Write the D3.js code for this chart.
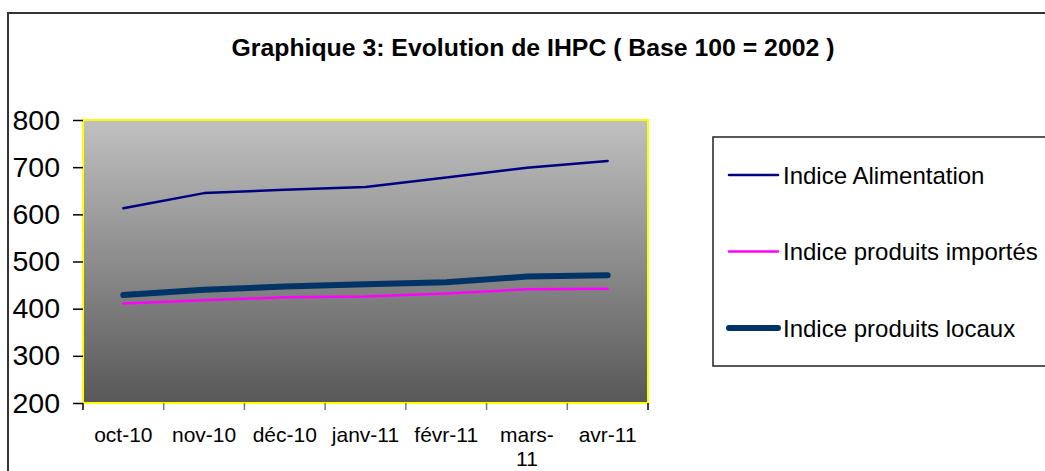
<!DOCTYPE html>
<html>
<head>
<meta charset="utf-8">
<script src="https://cdn.jsdelivr.net/npm/d3@7"></script>
<style>
  body { margin: 0; background: #fff; }
  svg { display: block; font-family: "Liberation Sans", Arial, sans-serif; }
</style>
</head>
<body>
<div id="chart"></div>
<script>
const months = ["oct-10", "nov-10", "déc-10", "janv-11", "févr-11", "mars-11", "avr-11"];
const alimentation = [613, 645, 652, 658, 678, 699, 713];
const importes = [411, 418, 424, 426, 432, 441, 442];
const locaux = [429, 440, 447, 452, 456, 468, 471];
const yTicks = [200, 300, 400, 500, 600, 700, 800];

const series = [
  { name: "Indice Alimentation", values: alimentation, color: "#000080", width: 2.5 },
  { name: "Indice produits importés", values: importes, color: "#ff00ff", width: 2.5 },
  { name: "Indice produits locaux", values: locaux, color: "#003366", width: 6 }
];

const width = 1045, height = 471;
const plot = { left: 83, top: 120, right: 648, bottom: 403 };

const svg = d3.select("#chart").append("svg")
  .attr("width", width)
  .attr("height", height);

// cadre du graphique (déborde à droite et en bas)
svg.append("rect")
  .attr("x", 8).attr("y", 13)
  .attr("width", width + 20).attr("height", height + 20)
  .attr("fill", "#fff").attr("stroke", "#333").attr("stroke-width", 2);

svg.append("text")
  .attr("x", 533).attr("y", 56)
  .attr("text-anchor", "middle")
  .attr("font-size", 24.8).attr("font-weight", "bold")
  .text("Graphique 3: Evolution de IHPC ( Base 100 = 2002 )");

const x = d3.scaleBand().domain(months).range([plot.left, plot.right]);
const y = d3.scaleLinear().domain([200, 800]).range([plot.bottom, plot.top]);

// fond dégradé gris
const grad = svg.append("defs").append("linearGradient")
  .attr("id", "bg").attr("x1", 0).attr("y1", 0).attr("x2", 0).attr("y2", 1);
grad.append("stop").attr("offset", "0%").attr("stop-color", "#c0c0c0");
grad.append("stop").attr("offset", "100%").attr("stop-color", "#585858");

svg.append("rect")
  .attr("x", plot.left).attr("y", plot.top)
  .attr("width", plot.right - plot.left).attr("height", plot.bottom - plot.top)
  .attr("fill", "url(#bg)").attr("stroke", "#ffff00").attr("stroke-width", 2);

// axe Y
const yAxis = svg.append("g")
  .attr("transform", `translate(${plot.left},0)`)
  .call(d3.axisLeft(y).tickValues(yTicks).tickSize(10).tickPadding(13).tickSizeOuter(0));
yAxis.select(".domain").remove();
yAxis.selectAll("line").attr("stroke", "#000").attr("stroke-width", 1.5);
yAxis.selectAll("text").attr("font-size", 28.5).attr("fill", "#000")
  .attr("font-family", "'Liberation Sans', Arial, sans-serif");

// axe X : graduations entre les catégories
const bounds = months.map(m => x(m)).concat([x.range()[1]]);
svg.append("g").selectAll("line")
  .data(bounds).enter().append("line")
  .attr("x1", d => d).attr("x2", d => d)
  .attr("y1", plot.bottom).attr("y2", plot.bottom + 7)
  .attr("stroke", (d, i) => (i === 0 || i === bounds.length - 1) ? "#000" : "#777")
  .attr("stroke-width", 1.5);

const xLabels = svg.append("g").selectAll("text")
  .data(months).enter().append("text")
  .attr("x", d => x(d) + x.bandwidth() / 2)
  .attr("y", 442)
  .attr("text-anchor", "middle")
  .attr("font-size", 21)
  .text(d => d);

// retour à la ligne après le tiret si l'étiquette est trop large
xLabels.each(function(d) {
  const t = d3.select(this);
  if (this.getComputedTextLength() > 72 && d.includes("-")) {
    const parts = d.split("-");
    t.text(null);
    t.append("tspan").attr("x", x(d) + x.bandwidth() / 2).text(parts[0] + "-");
    t.append("tspan").attr("x", x(d) + x.bandwidth() / 2).attr("dy", 24).text(parts[1]);
  }
});

// courbes
const line = d3.line()
  .x((d, i) => x(months[i]) + x.bandwidth() / 2)
  .y(d => y(d));

svg.append("g").selectAll("path")
  .data(series).enter().append("path")
  .attr("d", d => line(d.values))
  .attr("fill", "none")
  .attr("stroke", d => d.color)
  .attr("stroke-width", d => d.width)
  .attr("stroke-linecap", "round")
  .attr("stroke-linejoin", "round");

// légende
svg.append("rect")
  .attr("x", 713).attr("y", 137)
  .attr("width", 400).attr("height", 229)
  .attr("fill", "#fff").attr("stroke", "#222").attr("stroke-width", 1.5);

const legendY = d3.scalePoint().domain(series.map(s => s.name)).range([175, 328]);
const item = svg.append("g").selectAll("g")
  .data(series).enter().append("g")
  .attr("transform", d => `translate(0,${legendY(d.name)})`);
item.append("line")
  .attr("x1", 729).attr("x2", 778)
  .attr("stroke", d => d.color)
  .attr("stroke-width", d => d.width)
  .attr("stroke-linecap", "round");
item.append("text")
  .attr("x", 783).attr("y", 8.5)
  .attr("font-size", 24)
  .text(d => d.name);
</script>
</body>
</html>
